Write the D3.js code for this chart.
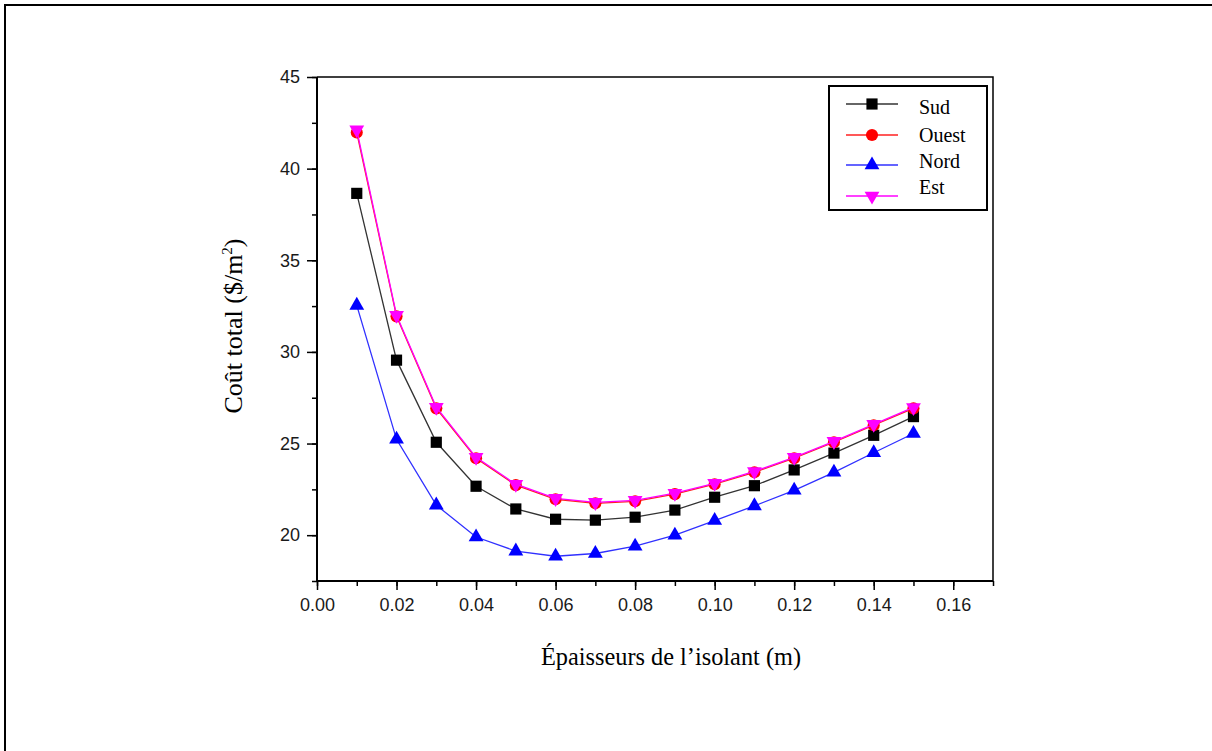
<!DOCTYPE html>
<html>
<head>
<meta charset="utf-8">
<script src="https://cdn.jsdelivr.net/npm/d3@7"></script>
<style>
  html, body { margin: 0; padding: 0; background: #fff; }
  svg { display: block; }
</style>
</head>
<body>
<svg id="chart" width="1212" height="751"></svg>
<script>
// Insulation thickness (m)
const thickness = [0.01, 0.02, 0.03, 0.04, 0.05, 0.06, 0.07, 0.08, 0.09, 0.10, 0.11, 0.12, 0.13, 0.14, 0.15];

// Total cost ($/m²) per wall orientation
const sud   = [38.65, 29.55, 25.07, 22.67, 21.43, 20.87, 20.82, 20.98, 21.37, 22.07, 22.70, 23.56, 24.48, 25.45, 26.47];
const ouest = [41.97, 31.94, 26.92, 24.20, 22.73, 21.96, 21.74, 21.85, 22.24, 22.78, 23.43, 24.20, 25.07, 26.00, 26.92];
const nord  = [32.54, 25.23, 21.64, 19.90, 19.13, 18.85, 19.00, 19.40, 20.00, 20.80, 21.60, 22.45, 23.43, 24.50, 25.55];
const est   = [42.12, 32.00, 26.98, 24.25, 22.78, 22.01, 21.79, 21.90, 22.29, 22.83, 23.48, 24.25, 25.12, 26.05, 26.97];

const seriesNames = ["Sud", "Ouest", "Nord", "Est"];
const xTicks = [0.00, 0.02, 0.04, 0.06, 0.08, 0.10, 0.12, 0.14, 0.16];
const yTicks = [20, 25, 30, 35, 40, 45];

const series = [
  { name: seriesNames[0], values: sud,   color: "#000000", line: "#333333", symbol: d3.symbolSquare,   size: 125, rot: 0 },
  { name: seriesNames[1], values: ouest, color: "#ff0000", line: "#ff2020", symbol: d3.symbolCircle,   size: 115, rot: 0 },
  { name: seriesNames[2], values: nord,  color: "#0000ff", line: "#3030ff", symbol: d3.symbolTriangle, size: 95,  rot: 0 },
  { name: seriesNames[3], values: est,   color: "#ff00ff", line: "#ff00ff", symbol: d3.symbolTriangle, size: 95,  rot: 180 }
];

const svg = d3.select("#chart");

// Page frame
svg.append("path")
  .attr("d", "M5,751 V5 H1212")
  .attr("fill", "none").attr("stroke", "#000").attr("stroke-width", 2);

const plotL = 317, plotR = 993, plotT = 77, plotB = 581;
const x = d3.scaleLinear().domain([0, 0.17]).range([plotL, plotR]);
const y = d3.scaleLinear().domain([17.5, 45]).range([plotB, plotT]);

// Plot box (top and right edges)
svg.append("path")
  .attr("d", `M${plotL},${plotT} H${plotR} V${plotB}`)
  .attr("fill", "none").attr("stroke", "#000").attr("stroke-width", 1.5);

// X axis with major and minor ticks
const xMinor = svg.append("g").attr("transform", `translate(0,${plotB})`)
  .call(d3.axisBottom(x).tickValues(d3.range(0, 0.1701, 0.01)).tickSize(5).tickFormat(""));
xMinor.select(".domain").remove();
const xMajor = svg.append("g").attr("transform", `translate(0,${plotB})`)
  .call(d3.axisBottom(x).tickValues(xTicks).tickSize(9).tickPadding(8).tickFormat(d3.format(".2f")));
xMajor.select(".domain").attr("stroke-width", 2).attr("d", `M${plotL},0H${plotR}`);
xMajor.selectAll("text")
  .attr("font-family", "'Liberation Sans', Arial, sans-serif")
  .attr("font-size", 18).attr("fill", "#1a1a1a");

// Y axis with major and minor ticks
const yMinor = svg.append("g").attr("transform", `translate(${plotL},0)`)
  .call(d3.axisLeft(y).tickValues(d3.range(17.5, 45.01, 2.5)).tickSize(5).tickFormat(""));
yMinor.select(".domain").remove();
const yMajor = svg.append("g").attr("transform", `translate(${plotL},0)`)
  .call(d3.axisLeft(y).tickValues(yTicks).tickSize(10).tickPadding(7));
yMajor.select(".domain").attr("stroke-width", 2).attr("d", `M0,${plotT}V${plotB}`);
yMajor.selectAll("text")
  .attr("font-family", "'Liberation Sans', Arial, sans-serif")
  .attr("font-size", 18).attr("fill", "#1a1a1a");
svg.selectAll("g.tick line").attr("stroke-width", 1.5);

// Axis titles
svg.append("text")
  .attr("x", 671).attr("y", 665)
  .attr("text-anchor", "middle")
  .attr("font-family", "'Liberation Serif', 'Times New Roman', serif")
  .attr("font-size", 26)
  .attr("textLength", 260)
  .attr("lengthAdjust", "spacingAndGlyphs")
  .text("Épaisseurs de l\u2019isolant (m)");

const yTitle = svg.append("text")
  .attr("transform", "translate(242,326) rotate(-90)")
  .attr("text-anchor", "middle")
  .attr("font-family", "'Liberation Serif', 'Times New Roman', serif")
  .attr("font-size", 26);
yTitle.append("tspan").text("Coût total ($/m");
yTitle.append("tspan").attr("font-size", 15).attr("dy", -10).text("2");
yTitle.append("tspan").attr("dy", 10).text(")");

// Series lines and markers
const lineGen = d3.line().x(d => x(d[0])).y(d => y(d[1]));
series.forEach(s => {
  const pts = thickness.map((t, i) => [t, s.values[i]]);
  svg.append("path")
    .datum(pts)
    .attr("fill", "none")
    .attr("stroke", s.line)
    .attr("stroke-width", 1.3)
    .attr("d", lineGen);
  svg.append("g").selectAll("path")
    .data(pts)
    .join("path")
    .attr("transform", d => `translate(${x(d[0])},${y(d[1])}) rotate(${s.rot})`)
    .attr("d", d3.symbol().type(s.symbol).size(s.size))
    .attr("fill", s.color);
});

// Legend
const lg = svg.append("g");
lg.append("rect")
  .attr("x", 829).attr("y", 86).attr("width", 158).attr("height", 124)
  .attr("fill", "#fff").attr("stroke", "#000").attr("stroke-width", 2);
const rowsLine = [104, 135, 165, 196];
const rowsText = [114, 142, 168, 194];
series.forEach((s, i) => {
  lg.append("line")
    .attr("x1", 846).attr("x2", 898)
    .attr("y1", rowsLine[i]).attr("y2", rowsLine[i])
    .attr("stroke", s.line).attr("stroke-width", 1.3);
  lg.append("path")
    .attr("transform", `translate(872,${rowsLine[i]}) rotate(${s.rot})`)
    .attr("d", d3.symbol().type(s.symbol).size(s.size))
    .attr("fill", s.color);
  lg.append("text")
    .attr("x", 919).attr("y", rowsText[i])
    .attr("font-family", "'Liberation Serif', 'Times New Roman', serif")
    .attr("font-size", 20)
    .text(s.name);
});
</script>
</body>
</html>
